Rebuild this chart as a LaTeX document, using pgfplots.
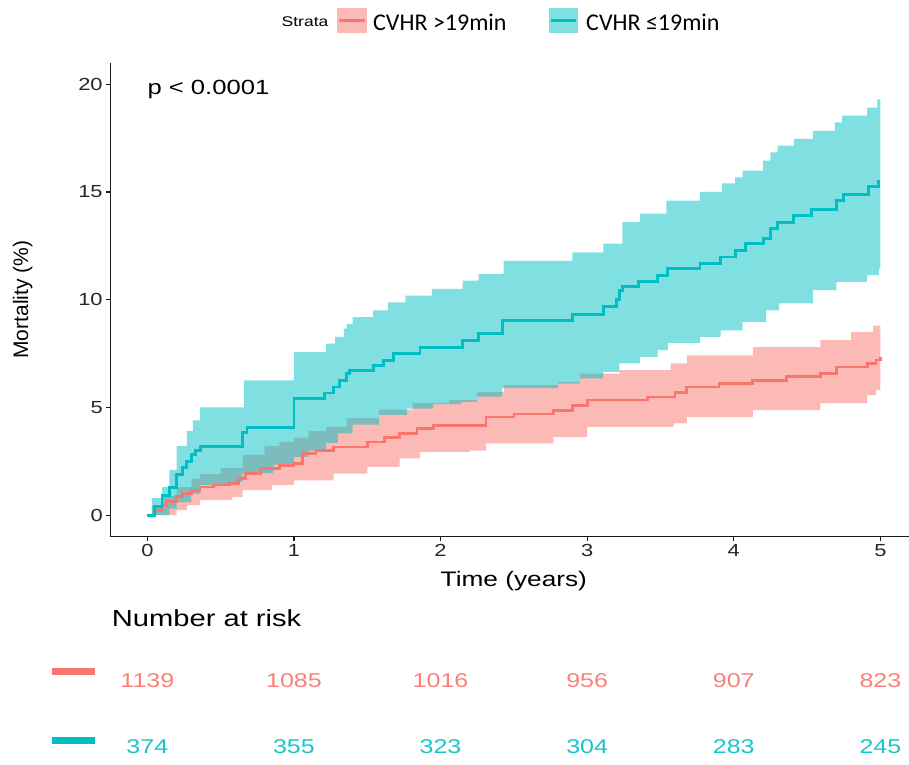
\documentclass[border=0pt]{standalone}
\usepackage{pgfplots}
\pgfplotsset{compat=1.18}
\usepgfplotslibrary{fillbetween}
\usepackage{fontspec}
\setmainfont{Liberation Sans}[FakeStretch=1.25]
\newfontfamily\plainfont{Liberation Sans}
\newfontfamily\legfont{Carlito}
\definecolor{kmred}{HTML}{F8766D}
\definecolor{kmteal}{HTML}{00BFC4}

\begin{document}
\begin{tikzpicture}[x=1pt,y=1pt]
\begin{axis}[
  at={(110.7pt,227.3pt)}, anchor=south west,
  scale only axis, width=806.3pt, height=474pt,
  xmin=-0.25, xmax=5.25, ymin=-1, ymax=21,
  axis x line*=bottom, axis y line*=left,
  axis line style={-, black!90, line width=1.2pt},
  xtick={0,1,2,3,4,5}, ytick={0,5,10,15,20},
  tick align=outside, major tick length=4.5pt,
  tick style={black!90, line width=1.2pt},
  ticklabel style={font=\fontsize{17.5}{20}\selectfont, text=black!85},
  /pgf/number format/assume math mode=true,
  xlabel={Time (years)}, ylabel={Mortality (\%)},
  xlabel style={font=\fontsize{21}{24}\selectfont, at={(axis description cs:0.5,-0.104)}, anchor=base},
  ylabel style={font=\plainfont\fontsize{21}{24}\selectfont, at={(axis description cs:-0.109,0.5)}, anchor=center},
  clip=false,
]
% ---- CVHR >19min confidence band
\addplot[name path=ru, const plot, draw=none, forget plot] coordinates {
(0,0) (0.03,0.4) (0.1,0.9) (0.2,1.3) (0.3,1.7) (0.36,1.9) (0.5,2.2) (0.65,2.8) (0.8,3.2) (0.9,3.4)
(1.0,3.6) (1.1,3.9) (1.22,4.1) (1.36,4.5) (1.58,4.9) (1.81,5.2) (2.06,5.34) (2.25,5.72)
(2.43,6.03) (2.8,6.19) (2.95,6.57) (3.22,6.73) (3.57,7.05) (3.68,7.42) (4.13,7.8) (4.59,8.12)
(4.8,8.5) (4.95,8.8) (5.0,8.8)};
\addplot[name path=rl, const plot, draw=none, forget plot] coordinates {
(0,0) (0.2,0.23) (0.27,0.46) (0.36,0.7) (0.58,0.85) (0.65,1.16) (0.85,1.4) (1.0,1.62) (1.27,1.93)
(1.5,2.24) (1.72,2.63) (1.86,2.94) (2.2,3.0) (2.31,3.33) (2.77,3.63) (3.0,4.1) (3.59,4.26)
(3.68,4.56) (4.13,4.87) (4.59,5.2) (4.91,5.57) (4.97,5.8) (5.0,5.8)};
\addplot[fill=kmred, fill opacity=0.5, draw=none, forget plot] fill between[of=ru and rl];
% ---- CVHR <=19min confidence band
\addplot[name path=tu, const plot, draw=none, forget plot] coordinates {
(0,0) (0.03,0.8) (0.1,1.3) (0.15,2.1) (0.2,3.2) (0.27,3.9) (0.31,4.4) (0.36,5.0) (0.66,6.26)
(1.0,7.57) (1.22,7.96) (1.28,8.27) (1.34,8.66) (1.36,8.88) (1.40,9.19) (1.54,9.5) (1.64,9.88)
(1.76,10.19) (1.94,10.5) (2.15,10.89) (2.26,11.2) (2.43,11.8) (2.9,12.2) (3.11,12.6) (3.24,13.6)
(3.36,14.0) (3.54,14.6) (3.77,15.0) (3.92,15.4) (4.01,15.68) (4.06,15.99) (4.2,16.45) (4.25,16.84)
(4.3,17.15) (4.41,17.46) (4.54,17.84) (4.69,18.23) (4.74,18.54) (4.91,18.92) (4.98,19.3) (5.0,19.3)};
\addplot[name path=tl, const plot, draw=none, forget plot] coordinates {
(0,0) (0.15,0.3) (0.2,0.6) (0.3,1.0) (0.36,1.4) (0.56,1.55) (0.65,1.95) (0.86,2.35) (1.0,2.7)
(1.1,3.0) (1.22,3.35) (1.3,3.8) (1.4,4.2) (1.58,4.65) (1.77,4.95) (1.95,5.15) (2.14,5.26)
(2.25,5.5) (2.42,5.9) (2.8,6.1)
(2.95,6.35) (3.11,6.65) (3.22,7.05) (3.36,7.35) (3.48,7.66) (3.55,8.0) (3.77,8.27) (3.91,8.58)
(4.06,8.97) (4.22,9.5) (4.31,9.83) (4.54,10.44) (4.7,10.83) (4.91,11.14) (4.99,11.44) (5.0,11.44)};
\addplot[fill=kmteal, fill opacity=0.5, draw=none, forget plot] fill between[of=tu and tl];
% ---- curves
\addplot[const plot, kmred, line width=2.7pt] coordinates {
(0,0) (0.05,0.2) (0.1,0.45) (0.13,0.62) (0.2,0.85) (0.24,1.0) (0.3,1.15) (0.36,1.3) (0.45,1.4)
(0.56,1.47) (0.62,1.7) (0.67,1.93) (0.77,2.17) (0.9,2.3) (1.0,2.4) (1.06,2.87) (1.15,3.0)
(1.27,3.17) (1.5,3.4) (1.62,3.6) (1.72,3.8) (1.84,4.03) (1.95,4.17) (2.31,4.56) (2.5,4.7)
(2.77,4.87) (2.9,5.1) (3.0,5.34) (3.41,5.49) (3.6,5.7) (3.68,5.95) (3.9,6.1) (4.13,6.26)
(4.36,6.42) (4.59,6.59) (4.7,6.88) (4.91,7.05) (4.97,7.2) (5.0,7.35)};
\addplot[const plot, kmteal, line width=2.9pt] coordinates {
(0,0) (0.05,0.4) (0.1,0.9) (0.15,1.3) (0.2,1.9) (0.24,2.2) (0.27,2.5) (0.3,2.8) (0.33,3.0)
(0.36,3.2) (0.65,3.85) (0.68,4.05) (1.0,5.4) (1.21,5.67) (1.27,5.95) (1.31,6.26) (1.36,6.57)
(1.38,6.72) (1.54,6.95) (1.61,7.18) (1.68,7.49) (1.86,7.8) (2.15,8.11) (2.26,8.42) (2.42,9.05)
(2.9,9.33) (3.11,9.67) (3.2,10.0) (3.22,10.44) (3.24,10.6) (3.35,10.83) (3.48,11.14) (3.55,11.44)
(3.77,11.7) (3.91,11.98) (4.01,12.3) (4.08,12.6) (4.2,12.85) (4.25,13.3) (4.3,13.6) (4.41,13.9)
(4.53,14.2) (4.7,14.6) (4.75,14.9) (4.92,15.24) (4.99,15.5) (5.0,15.5)};
\node[anchor=base west, inner sep=0, font=\fontsize{20.5}{24}\selectfont] at (axis cs:0,19.54) {p < 0.0001};
\end{axis}

% ---- number at risk table
\begin{axis}[
  at={(110.7pt,0pt)}, anchor=south west,
  scale only axis, width=806.3pt, height=764pt,
  xmin=-0.25, xmax=5.25, ymin=0, ymax=764, y dir=reverse,
  hide axis, clip=false,
]
\addplot[kmred, line width=7pt, line cap=butt] coordinates {(-0.653,671.5) (-0.357,671.5)};
\addplot[kmteal, line width=7pt, line cap=butt] coordinates {(-0.653,740) (-0.357,740)};
\addplot[draw=none, mark=none, nodes near coords, point meta=explicit symbolic,
  nodes near coords style={anchor=center, inner sep=0, text=kmred!92, font=\fontsize{20}{22}\selectfont}]
  table[meta=n, row sep=\\]{x y n\\ 0 680.7 1139\\ 1 680.7 1085\\ 2 680.7 1016\\ 3 680.7 956\\ 4 680.7 907\\ 5 680.7 823\\};
\addplot[draw=none, mark=none, nodes near coords, point meta=explicit symbolic,
  nodes near coords style={anchor=center, inner sep=0, text=kmteal!90, font=\fontsize{20}{22}\selectfont}]
  table[meta=n, row sep=\\]{x y n\\ 0 747 374\\ 1 747 355\\ 2 747 323\\ 3 747 304\\ 4 747 283\\ 5 747 245\\};
\node[anchor=base west, inner sep=0, font=\fontsize{23.3}{26}\selectfont] at (axis cs:-0.243,626.7) {Number at risk};
\end{axis}

% ---- legend
\node[anchor=west, inner sep=0, font=\fontsize{14}{16}\selectfont] at (281.5,742) {Strata};
\fill[kmred!50] (337,731) rectangle (367,756);
\draw[kmred, line width=2.5pt] (339,743.3) -- (365,743.3);
\node[anchor=base west, inner sep=0, font=\legfont\fontsize{24}{28}\selectfont] at (373,733) {CVHR >19min};
\fill[kmteal!50] (549,731) rectangle (578,756);
\draw[kmteal, line width=2.5pt] (551,743.3) -- (576,743.3);
\node[anchor=base west, inner sep=0, font=\legfont\fontsize{24}{28}\selectfont] at (586,733) {CVHR ≤19min};
\pgfresetboundingbox
\useasboundingbox (0,0) rectangle (909,764);
\end{tikzpicture}
\end{document}
